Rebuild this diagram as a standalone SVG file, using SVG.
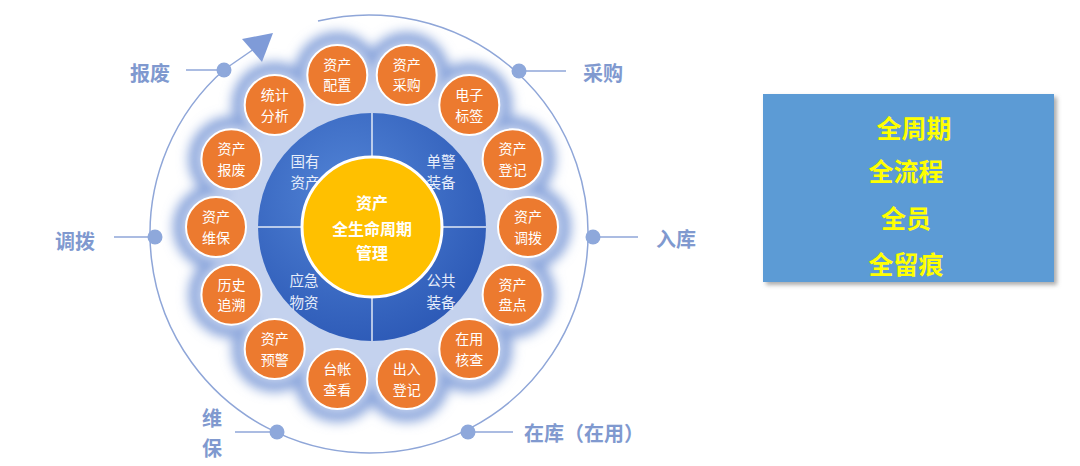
<svg xmlns="http://www.w3.org/2000/svg" width="1080" height="466" viewBox="0 0 1080 466">
<defs>
<style>
.cjk{font-family:"Noto Sans CJK SC","Noto Sans",sans-serif}
.orb{fill:#EC7A2F;stroke:#FFFFFF;stroke-width:2}
.ot{fill:#FFFFFF;font-size:14px;text-anchor:middle}
.qt{fill:#E6EDFA;font-size:14.5px;text-anchor:middle}
.ct{fill:#FFFFFF;font-size:16px;font-weight:700;text-anchor:middle}
.lbl{fill:#8099CF;font-size:20px;font-weight:700;dominant-baseline:central}
.yt{fill:#FFFF00;font-size:25px;font-weight:700;text-anchor:middle;dominant-baseline:central}
.ln{stroke:#8FA6D8;stroke-width:1.5;fill:none}
.dot{fill:#8EA8DB}
</style>
<filter id="blur6" x="-20%" y="-20%" width="140%" height="140%"><feGaussianBlur stdDeviation="6"/></filter>
<filter id="blur4" x="-20%" y="-20%" width="140%" height="140%"><feGaussianBlur stdDeviation="4"/></filter>
<filter id="shadow" x="-10%" y="-10%" width="125%" height="125%"><feDropShadow dx="3" dy="3" stdDeviation="2" flood-color="#777777" flood-opacity="0.6"/></filter>
<radialGradient id="disk" cx="40%" cy="35%" r="70%"><stop offset="0" stop-color="#5284D6"/><stop offset="1" stop-color="#2C59B6"/></radialGradient>
</defs>
<rect width="1080" height="466" fill="#FFFFFF"/>

<g id="connectors">
<path class="ln" d="M 318 21 A 219 219 0 1 1 225 69" stroke-width="1"/>
<line class="ln" x1="225" y1="69" x2="254" y2="49"/>
<polygon points="242,39 273,33 262,62" fill="#7F9BD8"/>
<line class="ln" x1="186" y1="70" x2="223" y2="70"/>
<line class="ln" x1="519" y1="71" x2="566" y2="71"/>
<line class="ln" x1="114" y1="237" x2="155" y2="237"/>
<line class="ln" x1="593" y1="237" x2="638" y2="237"/>
<line class="ln" x1="235" y1="432" x2="277" y2="432"/>
<line class="ln" x1="468" y1="432" x2="513" y2="432"/>
<circle class="dot" cx="224" cy="70" r="7.5"/>
<circle class="dot" cx="519" cy="71" r="7.5"/>
<circle class="dot" cx="155" cy="237" r="7.5"/>
<circle class="dot" cx="593" cy="237" r="7.5"/>
<circle class="dot" cx="277" cy="432" r="7.5"/>
<circle class="dot" cx="468" cy="432" r="7.5"/>
</g>

<g id="glow">
<g fill="#8AA5DB" filter="url(#blur6)">
<circle cx="372" cy="227" r="153"/>
<circle cx="528" cy="227" r="43"/><circle cx="512.6" cy="159.3" r="43"/><circle cx="469.3" cy="105" r="43"/><circle cx="406.7" cy="74.9" r="43"/>
<circle cx="337.3" cy="74.9" r="43"/><circle cx="274.7" cy="105" r="43"/><circle cx="231.4" cy="159.3" r="43"/><circle cx="216" cy="227" r="43"/>
<circle cx="231.4" cy="294.7" r="43"/><circle cx="274.7" cy="349" r="43"/><circle cx="337.3" cy="379.1" r="43"/><circle cx="406.7" cy="379.1" r="43"/>
<circle cx="469.3" cy="349" r="43"/><circle cx="512.6" cy="294.7" r="43"/>
</g>
<g fill="#C4D2EE" filter="url(#blur4)">
<circle cx="372" cy="227" r="145"/>
<circle cx="528" cy="227" r="34"/><circle cx="512.6" cy="159.3" r="34"/><circle cx="469.3" cy="105" r="34"/><circle cx="406.7" cy="74.9" r="34"/>
<circle cx="337.3" cy="74.9" r="34"/><circle cx="274.7" cy="105" r="34"/><circle cx="231.4" cy="159.3" r="34"/><circle cx="216" cy="227" r="34"/>
<circle cx="231.4" cy="294.7" r="34"/><circle cx="274.7" cy="349" r="34"/><circle cx="337.3" cy="379.1" r="34"/><circle cx="406.7" cy="379.1" r="34"/>
<circle cx="469.3" cy="349" r="34"/><circle cx="512.6" cy="294.7" r="34"/>
</g>
</g>

<g id="core">
<circle cx="372" cy="227" r="114" fill="url(#disk)"/>
<g stroke="#FFFFFF" stroke-opacity="0.85" stroke-width="1.5">
<line x1="372" y1="113" x2="372" y2="160"/>
<line x1="372" y1="294" x2="372" y2="341"/>
<line x1="258" y1="227" x2="305" y2="227"/>
<line x1="439" y1="227" x2="486" y2="227"/>
</g>
</g>

<g id="q-guoyou" class="cjk"><text class="qt" x="305" y="166.5">国有<tspan x="305" dy="21.5">资产</tspan></text></g>
<g id="q-danjing" class="cjk"><text class="qt" x="441" y="166.5">单警<tspan x="441" dy="21.5">装备</tspan></text></g>
<g id="q-yingji" class="cjk"><text class="qt" x="304" y="286">应急<tspan x="304" dy="21.5">物资</tspan></text></g>
<g id="q-gonggong" class="cjk"><text class="qt" x="441" y="286">公共<tspan x="441" dy="21.5">装备</tspan></text></g>

<g id="center" class="cjk">
<circle cx="372" cy="227" r="70" fill="#FFC000" stroke="#FFFFFF" stroke-width="3"/>
<text class="ct" x="372" y="209">资产<tspan x="372" dy="26">全生命周期</tspan><tspan x="372" dy="24">管理</tspan></text>
</g>

<g id="n-diaobo" class="cjk"><circle class="orb" cx="528" cy="227" r="30"/><text class="ot" x="528" y="222">资产<tspan x="528" dy="20.5">调拨</tspan></text></g>
<g id="n-dengji" class="cjk"><circle class="orb" cx="512.6" cy="159.3" r="30"/><text class="ot" x="512.6" y="154.3">资产<tspan x="512.6" dy="20.5">登记</tspan></text></g>
<g id="n-biaoqian" class="cjk"><circle class="orb" cx="469.3" cy="105" r="30"/><text class="ot" x="469.3" y="100">电子<tspan x="469.3" dy="20.5">标签</tspan></text></g>
<g id="n-caigou" class="cjk"><circle class="orb" cx="406.7" cy="74.9" r="30"/><text class="ot" x="406.7" y="69.9">资产<tspan x="406.7" dy="20.5">采购</tspan></text></g>
<g id="n-peizhi" class="cjk"><circle class="orb" cx="337.3" cy="74.9" r="30"/><text class="ot" x="337.3" y="69.9">资产<tspan x="337.3" dy="20.5">配置</tspan></text></g>
<g id="n-tongji" class="cjk"><circle class="orb" cx="274.7" cy="105" r="30"/><text class="ot" x="274.7" y="100">统计<tspan x="274.7" dy="20.5">分析</tspan></text></g>
<g id="n-baofei" class="cjk"><circle class="orb" cx="231.4" cy="159.3" r="30"/><text class="ot" x="231.4" y="154.3">资产<tspan x="231.4" dy="20.5">报废</tspan></text></g>
<g id="n-weibao" class="cjk"><circle class="orb" cx="216" cy="227" r="30"/><text class="ot" x="216" y="222">资产<tspan x="216" dy="20.5">维保</tspan></text></g>
<g id="n-lishi" class="cjk"><circle class="orb" cx="231.4" cy="294.7" r="30"/><text class="ot" x="231.4" y="289.7">历史<tspan x="231.4" dy="20.5">追溯</tspan></text></g>
<g id="n-yujing" class="cjk"><circle class="orb" cx="274.7" cy="349" r="30"/><text class="ot" x="274.7" y="344">资产<tspan x="274.7" dy="20.5">预警</tspan></text></g>
<g id="n-taizhang" class="cjk"><circle class="orb" cx="337.3" cy="379.1" r="30"/><text class="ot" x="337.3" y="374.1">台帐<tspan x="337.3" dy="20.5">查看</tspan></text></g>
<g id="n-churu" class="cjk"><circle class="orb" cx="406.7" cy="379.1" r="30"/><text class="ot" x="406.7" y="374.1">出入<tspan x="406.7" dy="20.5">登记</tspan></text></g>
<g id="n-hecha" class="cjk"><circle class="orb" cx="469.3" cy="349" r="30"/><text class="ot" x="469.3" y="344">在用<tspan x="469.3" dy="20.5">核查</tspan></text></g>
<g id="n-pandian" class="cjk"><circle class="orb" cx="512.6" cy="294.7" r="30"/><text class="ot" x="512.6" y="289.7">资产<tspan x="512.6" dy="20.5">盘点</tspan></text></g>

<g id="l-baofei" class="cjk"><text class="lbl" x="130" y="72">报废</text></g>
<g id="l-diaobo" class="cjk"><text class="lbl" x="55" y="240">调拨</text></g>
<g id="l-caigou" class="cjk"><text class="lbl" x="583" y="72">采购</text></g>
<g id="l-ruku" class="cjk"><text class="lbl" x="656" y="238">入库</text></g>
<g id="l-weibao" class="cjk"><text class="lbl" x="202" y="417">维<tspan x="202" dy="29.5">保</tspan></text></g>
<g id="l-zaiku" class="cjk"><text class="lbl" x="524" y="432">在库（在用）</text></g>

<g id="summary" class="cjk">
<rect x="763" y="94" width="291" height="188" fill="#5B9BD5" filter="url(#shadow)"/>
<text class="yt" x="914" y="127">全周期</text>
<text class="yt" x="906" y="170">全流程</text>
<text class="yt" x="906" y="217">全员</text>
<text class="yt" x="906" y="263">全留痕</text>
</g>
</svg>
